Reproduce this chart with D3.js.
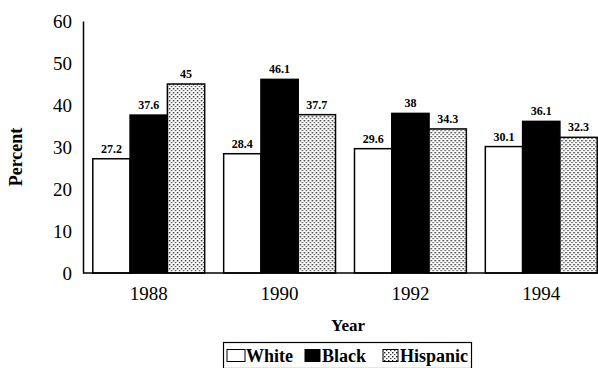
<!DOCTYPE html>
<html>
<head>
<meta charset="utf-8">
<script src="https://cdn.jsdelivr.net/npm/d3@7"></script>
<style>
  html, body { margin: 0; padding: 0; background: #fff; }
  svg { display: block; }
  svg text { font-family: "Liberation Serif", "Times New Roman", Times, serif; }
</style>
</head>
<body>
<svg id="chart" width="598" height="368"></svg>
<script>
// Share of each group by survey year
const years = ["1988", "1990", "1992", "1994"];
const groups = ["White", "Black", "Hispanic"];
const white = [27.2, 28.4, 29.6, 30.1];
const black = [37.6, 46.1, 38, 36.1];
const hispanic = [45, 37.7, 34.3, 32.3];
const yTicks = [0, 10, 20, 30, 40, 50, 60];

const seriesValues = { White: white, Black: black, Hispanic: hispanic };
const rows = years.map((yr, i) => ({
  year: yr,
  vals: groups.map(g => ({ group: g, value: seriesValues[g][i] }))
}));

const svg = d3.select("#chart");
const serif = "\"Liberation Serif\", \"Times New Roman\", Times, serif";

// Stipple fill for the Hispanic bars
const defs = svg.append("defs");
const pat = defs.append("pattern")
  .attr("id", "stipple")
  .attr("patternUnits", "userSpaceOnUse")
  .attr("width", 4).attr("height", 4);
pat.append("rect").attr("width", 4).attr("height", 4).attr("fill", "#fff");
pat.append("rect").attr("x", 0).attr("y", 0).attr("width", 1.4).attr("height", 1.4).attr("fill", "#222");
pat.append("rect").attr("x", 2).attr("y", 2).attr("width", 1.4).attr("height", 1.2).attr("fill", "#444");

const plot = { left: 83, right: 598, top: 21, bottom: 273 };

const y = d3.scaleLinear().domain([0, 60]).range([plot.bottom, plot.top]);
const x0 = d3.scaleBand().domain(years)
  .range([plot.left, plot.left + 4 * 131])
  .paddingInner(0.145).paddingOuter(0.075);
const x1 = d3.scaleBand().domain(groups).range([0, x0.bandwidth()]);

const fills = { White: "#fff", Black: "#000", Hispanic: "url(#stipple)" };

// Bars
const g = svg.append("g");
const grp = g.selectAll("g.year").data(rows).join("g")
  .attr("class", "year")
  .attr("transform", d => `translate(${x0(d.year)},0)`);

grp.selectAll("rect").data(d => d.vals).join("rect")
  .attr("x", d => x1(d.group))
  .attr("y", d => y(d.value))
  .attr("width", x1.bandwidth())
  .attr("height", d => y(0) - y(d.value))
  .attr("fill", d => fills[d.group])
  .attr("stroke", "#000")
  .attr("stroke-width", 1.5);

// Value labels
grp.selectAll("text").data(d => d.vals).join("text")
  .attr("x", d => x1(d.group) + x1.bandwidth() / 2)
  .attr("y", d => y(d.value) - 6)
  .attr("text-anchor", "middle")
  .style("font-family", serif)
  .attr("font-weight", "bold")
  .attr("font-size", 12)
  .text(d => d.value);

// Y axis
const yAxis = d3.axisLeft(y).tickValues(yTicks).tickSize(0).tickPadding(11);
const ya = svg.append("g").attr("transform", `translate(${plot.left},0)`).call(yAxis);
ya.attr("font-family", null);
ya.select(".domain").attr("stroke", "#000").attr("stroke-width", 1.5);
ya.selectAll("text").style("font-family", serif).attr("font-size", 19).attr("fill", "#000");

// Baseline
svg.append("line")
  .attr("x1", plot.left).attr("x2", plot.right)
  .attr("y1", y(0)).attr("y2", y(0))
  .attr("stroke", "#000").attr("stroke-width", 1.5);

// X axis labels
const xAxis = d3.axisBottom(x0).tickSize(0).tickPadding(14);
const xa = svg.append("g").attr("transform", `translate(0,${y(0)})`).call(xAxis);
xa.attr("font-family", null);
xa.select(".domain").remove();
xa.selectAll("text").style("font-family", serif).attr("font-size", 19).attr("fill", "#000");

// Axis titles
svg.append("text")
  .attr("transform", `translate(22,${(plot.top + plot.bottom) / 2 + 10}) rotate(-90)`)
  .attr("text-anchor", "middle")
  .style("font-family", serif).attr("font-weight", "bold").attr("font-size", 18)
  .text("Percent");

svg.append("text")
  .attr("x", 348).attr("y", 331)
  .attr("text-anchor", "middle")
  .style("font-family", serif).attr("font-weight", "bold").attr("font-size", 17)
  .text("Year");

// Legend
const leg = svg.append("g");
leg.append("rect")
  .attr("x", 223.5).attr("y", 342.5).attr("width", 248).attr("height", 26)
  .attr("fill", "#fff").attr("stroke", "#000").attr("stroke-width", 1.2);

const legendItems = [
  { group: "White", sx: 227, tx: 246 },
  { group: "Black", sx: 305, tx: 322 },
  { group: "Hispanic", sx: 383, tx: 400 }
];
const li = leg.selectAll("g.item").data(legendItems).join("g").attr("class", "item");
li.append("rect")
  .attr("x", d => d.sx).attr("y", 349.5)
  .attr("width", d => d.group === "White" ? 18 : 15).attr("height", 12)
  .attr("fill", d => fills[d.group])
  .attr("stroke", "#000").attr("stroke-width", 1);
li.append("text")
  .attr("x", d => d.tx).attr("y", 362)
  .style("font-family", serif).attr("font-weight", "bold").attr("font-size", 18)
  .text(d => d.group);
</script>
</body>
</html>
